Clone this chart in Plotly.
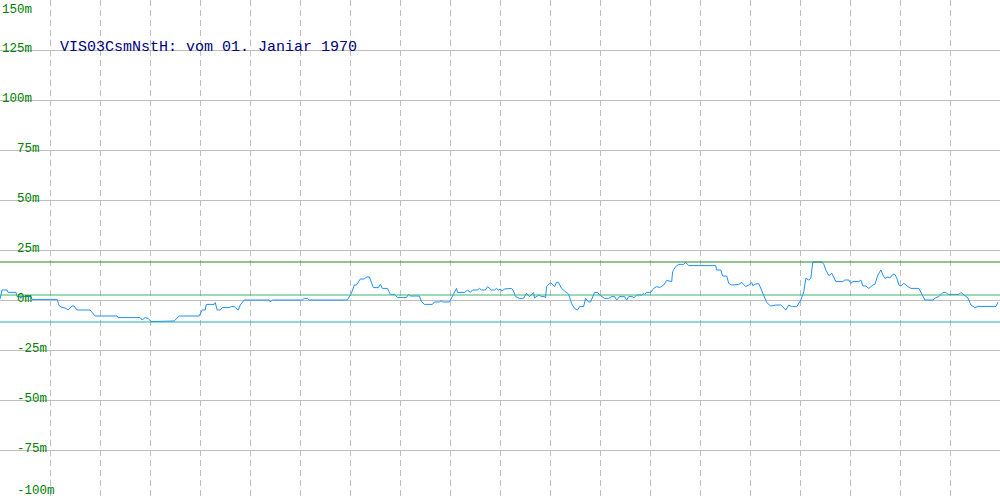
import plotly.graph_objects as go

# ---- data ----
title_text = "VIS03CsmNstH: vom 01. Janiar 1970"
y_ticks = [150, 125, 100, 75, 50, 25, 0, -25, -50, -75, -100]
y_tick_labels = ["150m", "125m", "100m", "75m", "50m", "25m", "0m", "-25m", "-50m", "-75m", "-100m"]

t = [0, 2, 7, 8, 16, 17, 31, 32, 57, 59, 62, 65, 68, 72, 74, 77, 90, 95, 117, 118,
     140, 142, 145, 148, 151, 167, 174, 179, 199, 202, 205, 206, 214, 215, 217, 220,
     222, 229, 231, 234, 238, 240, 244, 269, 270, 272, 302, 304, 307, 309, 347, 351,
     352, 354, 356, 358, 360, 364, 366, 369, 371, 373, 378, 380, 382, 387, 390, 394,
     397, 406, 408, 410, 419, 421, 424, 432, 434, 439, 441, 442, 449, 451, 456, 457,
     464, 467, 470, 472, 477, 479, 481, 485, 487, 491, 494, 496, 498, 500, 501, 504,
     508, 511, 513, 515, 519, 523, 526, 529, 533, 534, 538, 541, 544, 545, 546, 550,
     554, 556, 558, 561, 564, 568, 571, 574, 577, 579, 583, 585, 588, 590, 594, 597,
     599, 601, 604, 608, 611, 614, 616, 619, 624, 626, 628, 632, 633, 636, 641, 643,
     644, 646, 650, 653, 656, 659, 663, 666, 671, 672, 675, 678, 683, 685, 688, 715,
     716, 720, 722, 726, 728, 731, 735, 738, 741, 745, 748, 751, 752, 755, 758, 760,
     763, 766, 770, 775, 780, 783, 785, 788, 791, 796, 800, 803, 805, 808, 810, 811,
     812, 821, 823, 825, 828, 831, 835, 842, 844, 848, 850, 852, 858, 860, 862, 865,
     868, 872, 874, 877, 880, 882, 884, 887, 889, 892, 894, 896, 898, 900, 903, 907,
     910, 918, 921, 924, 932, 935, 938, 942, 945, 947, 958, 960, 963, 967, 970, 974,
     977, 995, 997]
values = [0.5, 5, 5, 3.8, 3.8, 1.7, 1.7, 0.3, 0.3, -2.8, -3.7, -4, -5, -3, -3, -5, -5, -8, -8, -8.8,
          -8.8, -10, -8.8, -9.2, -10.8, -10.8, -10.5, -8, -8, -5, -5, -2.2, -2.2, -1.3, -5, -5,
          -3.8, -3.8, -3.3, -3.3, -5, -2.5, 0, 0, -1, 0, 0, 0.8, 0.8, 0, 0, 3.3,
          5, 7.5, 7.5, 9.2, 10.5, 10.5, 11.5, 11.5, 9.2, 6.2, 6.2, 7.8, 5.8, 5.8, 2.8, 2.8,
          1.2, 1.2, 2.8, 2, 2, -0.8, -2.2, -2.2, -1, -1, -0.3, -1, -1, 1, 5.8, 3.8,
          3.8, 4.9, 3.8, 5, 5, 5.8, 5, 5, 6.7, 5, 5, 5.8, 5, 5.5, 4.5, 5.5,
          5.5, 5.8, 4.5, 1.7, 0.8, 0.8, 3.3, 1.7, 3.7, 1, 2.5, 1.7, 1.7, 1, 6.7, 8.7,
          6.7, 8.8, 8.8, 5.8, 4.5, 3, -1.7, -4.2, -5, -3.3, -3.3, 0.8, -1, -1, 3.8, 3.8,
          2.5, 1.7, 0.8, 0.8, 1.7, 1.7, 0, 1.7, 1.7, 0, 1.7, 1.7, 1, 2.5, 2.5, 3.3,
          2.8, 3.8, 3.8, 5.8, 6.7, 6.2, 7.5, 9.8, 9.2, 14.2, 16.7, 17.8, 17.8, 18.8, 17.2, 17.2,
          15, 15, 12, 12, 8.3, 7.5, 7.8, 7.8, 8.8, 6.7, 7.5, 8.8, 7.2, 8, 8.2, 5.8,
          1.7, -1.3, -3, -2.5, -2.5, -4.2, -5, -2.5, -3.3, -3.3, 0, 4.2, 10.8, 10, 10.8, 15,
          19, 19, 17.8, 15, 12.2, 13.3, 9.2, 9.2, 10, 10, 8.3, 9.2, 9.2, 10, 7, 7,
          5.8, 7.5, 7.8, 12.5, 15, 12.5, 10.8, 11.5, 11, 12.8, 12.8, 10.8, 7.5, 7, 8.3, 6.7,
          5.8, 5.8, 2.8, 0, 0, 1.2, 1.7, 3.8, 3.8, 2.8, 2.8, 3.8, 2.5, 1, -2.5, -3.8,
          -3.2, -3.2, -1]
avg_value = 2.5

# ---- figure ----
fig = go.Figure()
fig.add_trace(go.Scatter(x=t, y=values, mode="lines",
                         line=dict(color="#1E90FF", width=1), hoverinfo="skip"))

max_value = max(values)
min_value = min(values)
for val, col in [(max_value, "#228B22"), (avg_value, "#3CB371"), (min_value - 0.2, "#20B2AA")]:
    fig.add_shape(type="line", xref="paper", x0=0, x1=1, yref="y", y0=val, y1=val,
                  line=dict(color=col, width=1))

mono = "Liberation Mono, DejaVu Sans Mono, monospace"
for v, lab in zip(y_ticks, y_tick_labels):
    if v == y_ticks[0]:
        anchor, shift = "top", -1
    elif v == y_ticks[-1]:
        anchor, shift = "bottom", 0
    else:
        anchor, shift = "middle", 1
    fig.add_annotation(x=(0 if v >= 100 else 15) / 1000, xref="paper", xanchor="left",
                       y=v, yref="y", yanchor=anchor, yshift=shift,
                       text=lab, showarrow=False,
                       font=dict(family=mono, size=12.5, color="#008000"))

fig.add_annotation(x=0.058, xref="paper", xanchor="left", y=0.904, yref="paper",
                   yanchor="middle", text=title_text, showarrow=False,
                   font=dict(family=mono, size=15, color="#000080"))

fig.update_layout(
    width=1000, height=500,
    margin=dict(l=0, r=0, t=0, b=0),
    paper_bgcolor="white", plot_bgcolor="white",
    showlegend=False,
    xaxis=dict(range=[0, 999], tick0=0, dtick=50, showgrid=True, gridcolor="#BEBEBE",
               griddash="6px,4px", gridwidth=1, showticklabels=False, zeroline=False,
               showline=True, linecolor="#BEBEBE", mirror=True, fixedrange=True),
    yaxis=dict(range=[-100, 150], tickvals=y_ticks, showgrid=True, gridcolor="#BEBEBE",
               gridwidth=1, showticklabels=False, zeroline=False,
               showline=True, linecolor="#BEBEBE", mirror=True, fixedrange=True),
)

fig.write_html("out.html", config={"displayModeBar": False},
               post_script="document.body.style.margin='0';document.body.style.padding='0';")
